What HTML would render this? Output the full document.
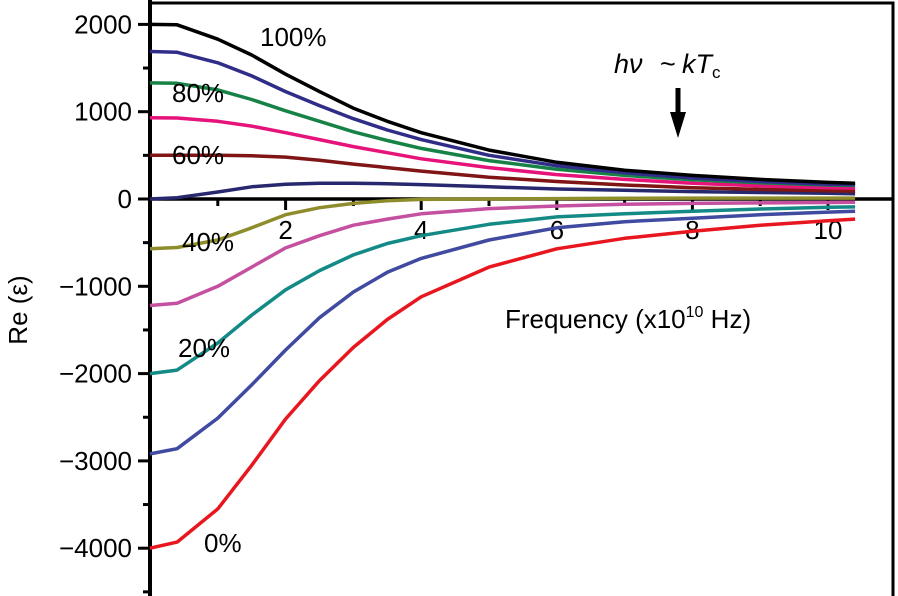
<!DOCTYPE html>
<html><head><meta charset="utf-8"><style>
body{margin:0;background:#fff}
svg{display:block;font-family:"Liberation Sans",Arial,sans-serif}
</style></head><body>
<svg id="c" width="898" height="596" viewBox="0 0 898 596">
<g id="axes"></g><g id="series"></g><g id="labels"></g>
</svg>
<script>
const xs=[0,0.4,1,1.5,2,2.5,3,3.5,4,5,6,7,8,9,10,10.4];
const s0=[-4000,-3930,-3550,-3050,-2520,-2080,-1700,-1380,-1120,-780,-570,-450,-370,-300,-250,-230];
const s10=[-2920,-2860,-2510,-2130,-1730,-1360,-1065,-840,-680,-470,-330,-260,-220,-180,-150,-140];
const s20=[-2000,-1960,-1650,-1330,-1040,-820,-640,-510,-420,-290,-205,-170,-140,-115,-95,-90];
const s30=[-1220,-1195,-1000,-780,-560,-420,-300,-230,-170,-110,-80,-60,-50,-45,-40,-38];
const s40=[-570,-555,-470,-330,-180,-100,-50,-20,-5,0,5,8,10,10,10,10];
const s50=[0,15,80,140,170,180,180,175,165,140,115,100,85,75,65,60];
const s60=[500,500,500,495,480,445,400,360,320,250,200,160,130,110,95,90];
const s70=[930,928,890,835,760,680,600,530,460,360,280,225,180,150,130,125];
const s80=[1330,1325,1250,1140,1010,890,770,670,580,440,340,270,220,185,160,155];
const s90=[1690,1680,1560,1410,1230,1070,920,790,680,500,380,300,240,200,170,165];
const s100=[2000,1995,1830,1650,1430,1230,1040,890,760,560,420,330,270,225,190,180];
const yTicks=[2000,1000,0,-1000,-2000,-3000,-4000];
const xTicks=[2,4,6,8,10];
const NS="http://www.w3.org/2000/svg";
const X=v=>150+67.8*v, Y=v=>199-0.0873*v;
function mk(t,a,p){const e=document.createElementNS(NS,t);for(const k in a)e.setAttribute(k,a[k]);document.getElementById(p).appendChild(e);return e;}
let e;
e=mk('line',{x1:150,y1:0,x2:150,y2:596,stroke:'#000','stroke-width':4},'axes');


e=mk('polyline',{points:'150,3 893,3 893,596',fill:'none',stroke:'#000','stroke-width':3},'axes');


e=mk('line',{x1:150,y1:Y(0),x2:893,y2:Y(0),stroke:'#000','stroke-width':3.5},'axes');


for(let v=-4500;v<=2000;v+=500){
  const major=v%1000===0;
  e=mk('line',{x1:major?138:143,y1:Y(v),x2:150,y2:Y(v),stroke:'#000','stroke-width':3},'axes');
  
  
}
yTicks.forEach(v=>{
  e=mk('text',{x:132,y:Y(v)+9,'text-anchor':'end','font-size':26},'axes');
  e.textContent=v<0?'\u2212'+(-v):String(v);
  
  
});
for(let v=1;v<=10;v++){
  e=mk('line',{x1:X(v),y1:Y(0),x2:X(v),y2:Y(0)+(v%2?7:11),stroke:'#000','stroke-width':3},'axes');
  
  
}
xTicks.forEach(v=>{
  e=mk('text',{x:X(v),y:239,'text-anchor':'middle','font-size':26},'axes');
  e.textContent=String(v);
  
  
});
const series=[[s0,'#e8161e','0pct'],[s10,'#3f4aa0','10pct'],[s20,'#138a86','20pct'],[s30,'#c4509f','30pct'],[s40,'#8f8c2c','40pct'],[s50,'#27286e','50pct'],[s60,'#7f1515','60pct'],[s70,'#e6137a','70pct'],[s80,'#168246','80pct'],[s90,'#2f2d88','90pct'],[s100,'#000000','100pct']];
series.forEach(([d,c,n])=>{
  const pts=xs.map((x,i)=>X(x).toFixed(1)+','+Y(d[i]).toFixed(1)).join(' ');
  e=mk('polyline',{points:pts,fill:'none',stroke:c,'stroke-width':3.5,'stroke-linejoin':'round'},'series');
  
  
});
[['100%',260,46],['80%',172,102],['60%',172,164],['40%',182,251],['20%',178,357],['0%',204,552]].forEach(([t,x,y])=>{
  e=mk('text',{x:x,y:y,'font-size':26},'labels');
  e.textContent=t;
  
  
});
</script>
<svg style="position:absolute;left:0;top:0" width="898" height="596">
<text x="27" y="310" font-size="26" text-anchor="middle" transform="rotate(-90 27 310)" font-family="Liberation Sans, sans-serif">Re (ε)</text>
<text x="505" y="328" font-size="26" font-family="Liberation Sans, sans-serif">Frequency (x10<tspan font-size="16" dy="-11">10</tspan><tspan dy="11"> Hz)</tspan></text>
<text x="614" y="73" font-size="27" font-family="Liberation Sans, sans-serif"><tspan font-style="italic">hν</tspan><tspan x="660">~</tspan><tspan x="682" font-style="italic">kT</tspan><tspan font-size="17" dy="5">c</tspan></text>
<g>
<line x1="678" y1="88" x2="678" y2="118" stroke="#000" stroke-width="5"/>
<polygon points="670,112 686,112 678,138" fill="#000"/>
</g>
</svg>
</body></html>
